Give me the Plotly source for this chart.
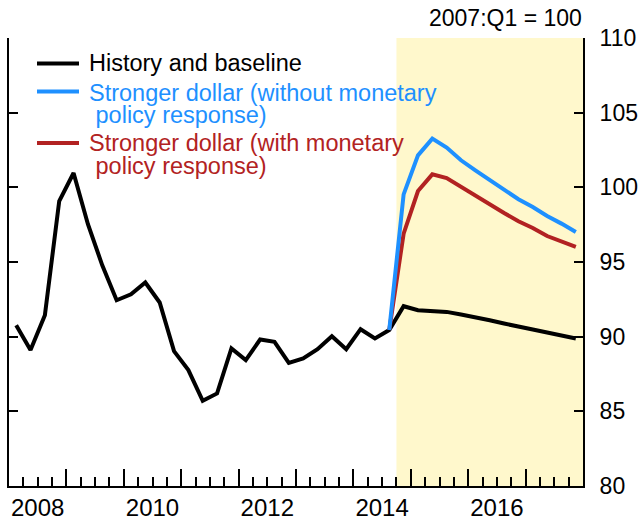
import plotly.graph_objects as go

# ---------------- data ----------------
years = list(range(2008, 2018))
quarters = [f"{y}:Q{q}" for y in years for q in range(1, 5)]

history_baseline = [90.77, 89.10, 91.44, 99.08, 100.96, 97.53, 94.78, 92.44, 92.84, 93.63,
                    92.29, 89.03, 87.76, 85.71, 86.20, 89.21, 88.43, 89.81, 89.65, 88.25,
                    88.54, 89.16, 90.03, 89.16, 90.50, 89.88, 90.45, 92.04, 91.77, 91.71,
                    91.66, 91.48, 91.32, 91.10, 90.88, 90.65, 90.48, 90.28, 90.10, 89.88]

scenario_quarters = quarters[26:]  # 2014:Q3 onward
stronger_no_policy = [90.45, 99.53, 102.14, 103.26, 102.66, 101.81, 101.14, 100.47,
                      99.85, 99.20, 98.68, 98.08, 97.57, 97.01]
stronger_with_policy = [90.45, 96.90, 99.75, 100.87, 100.62, 100.02, 99.42, 98.84,
                        98.28, 97.73, 97.28, 96.74, 96.39, 96.01]

forecast_start = "2014:Q4"
year_labels = ["2008", "2010", "2012", "2014", "2016"]
y_ticks = [80, 85, 90, 95, 100, 105, 110]

series_names = ["History and baseline",
                "Stronger dollar (without monetary policy response)",
                "Stronger dollar (with monetary policy response)"]
legend_lines = [["History and baseline"],
                ["Stronger dollar (without monetary", "&nbsp;policy response)"],
                ["Stronger dollar (with monetary", "&nbsp;policy response)"]]
colors = ["#000000", "#1E90FF", "#B22222"]


def qpos(label):
    y, q = label.split(":Q")
    return int(y) + (int(q) - 0.5) / 4


def qstart(label):
    y, q = label.split(":Q")
    return int(y) + (int(q) - 1) / 4


# ---------------- layout geometry ----------------
W, H = 639, 522
P_LEFT, P_RIGHT, P_TOP, P_BOTTOM = 9, 583, 37.5, 486      # plot area in pixels
ML, MR, MT, MB = P_LEFT, W - P_RIGHT, P_TOP, H - P_BOTTOM
FONT = "Liberation Sans, Arial, sans-serif"


def px(xp):
    return (xp - P_LEFT) / (P_RIGHT - P_LEFT)


def py(yp):
    return (P_BOTTOM - yp) / (P_BOTTOM - P_TOP)


fig = go.Figure()

fig.add_trace(go.Scatter(x=[qpos(q) for q in quarters], y=history_baseline,
                         mode="lines", name=series_names[0],
                         line=dict(color=colors[0], width=4), showlegend=False))
fig.add_trace(go.Scatter(x=[qpos(q) for q in scenario_quarters], y=stronger_with_policy,
                         mode="lines", name=series_names[2],
                         line=dict(color=colors[2], width=4), showlegend=False))
fig.add_trace(go.Scatter(x=[qpos(q) for q in scenario_quarters], y=stronger_no_policy,
                         mode="lines", name=series_names[1],
                         line=dict(color=colors[1], width=4), showlegend=False))
# carrier for the year-label axis
fig.add_trace(go.Scatter(x=[], y=[], xaxis="x2", yaxis="y", showlegend=False,
                         hoverinfo="skip"))

x0, x1 = years[0], years[-1] + 1

fig.add_shape(type="rect", xref="x", yref="y", x0=qstart(forecast_start), x1=x1,
              y0=y_ticks[0], y1=y_ticks[-1], fillcolor="#FFF8CC", line_width=0,
              layer="below")

# legend drawn by hand to keep the tight line spacing of the original
legend_rows = [  # (sample y, [text line centre y ...]) in pixels
    (63, [63]),
    (91, [93, 115]),
    (142.5, [143, 166]),
]
for i, (sy, tys) in enumerate(legend_rows):
    fig.add_shape(type="line", xref="paper", yref="paper", x0=px(37), x1=px(79),
                  y0=py(sy), y1=py(sy), line=dict(color=colors[i], width=4))
    for txt, ty in zip(legend_lines[i], tys):
        fig.add_annotation(xref="paper", yref="paper", x=px(87), y=py(ty),
                           xanchor="left", yanchor="middle", text=txt,
                           showarrow=False,
                           font=dict(family=FONT, size=23.5, color=colors[i]))

fig.add_annotation(xref="paper", yref="paper", x=px(584), y=py(17.5),
                   xanchor="right", yanchor="middle", text="2007:Q1 = 100",
                   showarrow=False, font=dict(family=FONT, size=23, color="black"))

fig.update_layout(
    width=W, height=H, autosize=False,
    margin=dict(l=ML, r=MR, t=MT, b=MB, pad=0, autoexpand=False),
    paper_bgcolor="white", plot_bgcolor="white",
    font=dict(family=FONT, size=23, color="black"),
    showlegend=False,
    xaxis=dict(range=[x0, x1], tickmode="array", tickvals=years[1:],
               ticktext=["" for _ in years[1:]], ticks="inside", ticklen=17,
               tickwidth=1.5, tickcolor="black", showline=True, linewidth=2,
               linecolor="black", showgrid=False, zeroline=False, automargin=False,
               minor=dict(tickmode="linear", tick0=x0, dtick=0.25, ticks="inside",
                          ticklen=9, tickwidth=1.5, tickcolor="black", showgrid=False)),
    xaxis2=dict(range=[x0, x1], overlaying="x", anchor="y", side="bottom",
                tickmode="array", tickvals=[int(v) + 0.5 for v in year_labels],
                ticktext=year_labels, ticks="", showline=False, showgrid=False,
                zeroline=False, tickfont=dict(size=24), ticklabelstandoff=5,
                automargin=False),
    yaxis=dict(range=[y_ticks[0], y_ticks[-1]], side="right", tickmode="array",
               tickvals=y_ticks, ticks="inside", ticklen=9, tickwidth=1.5,
               tickcolor="black", showline=True, linewidth=2, linecolor="black",
               mirror="ticks", showgrid=False, zeroline=False, automargin=False,
               tickfont=dict(size=23), ticklabelstandoff=10),
)

# the page body has a default 8px margin; remove it so the figure fills the window
fig.write_html("out.html",
               config={"displayModeBar": False, "responsive": False},
               post_script="document.body.style.margin='0';")
